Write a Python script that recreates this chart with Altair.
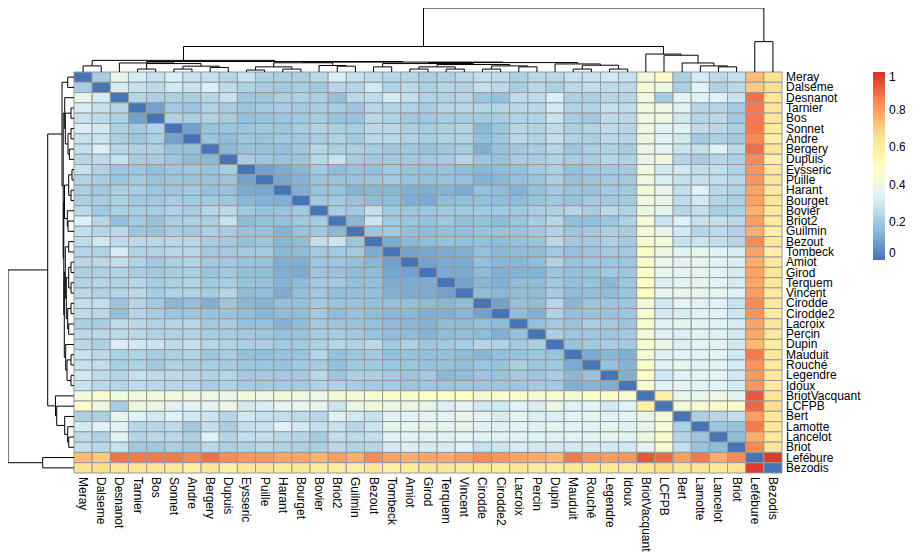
import altair as alt
import pandas as pd

names = ["Meray", "Dalseme", "Desnanot", "Tarnier", "Bos", "Sonnet", "Andre", "Bergery",
         "Dupuis", "Eysseric", "Puille", "Harant", "Bourget", "Bovier", "Briot2", "Guilmin",
         "Bezout", "Tombeck", "Amiot", "Girod", "Terquem", "Vincent", "Cirodde", "Cirodde2",
         "Lacroix", "Percin", "Dupin", "Mauduit", "Rouché", "Legendre", "Idoux",
         "BriotVacquant", "LCFPB", "Bert", "Lamotte", "Lancelot", "Briot", "Lefébure", "Bezodis"]

# lower triangle of the distance matrix (row i: columns 0..i-1)
lower = [
    [],
    [0.21],
    [0.37, 0.31],
    [0.31, 0.28, 0.24],
    [0.28, 0.26, 0.22, 0.10],
    [0.32, 0.30, 0.22, 0.20, 0.23],
    [0.28, 0.29, 0.22, 0.19, 0.22, 0.10],
    [0.27, 0.32, 0.24, 0.23, 0.23, 0.18, 0.18],
    [0.24, 0.26, 0.28, 0.21, 0.21, 0.19, 0.16, 0.15],
    [0.28, 0.23, 0.19, 0.19, 0.17, 0.19, 0.19, 0.18, 0.21],
    [0.23, 0.21, 0.19, 0.20, 0.18, 0.19, 0.18, 0.18, 0.19, 0.10],
    [0.22, 0.20, 0.22, 0.21, 0.19, 0.19, 0.20, 0.17, 0.18, 0.12, 0.11],
    [0.22, 0.21, 0.22, 0.20, 0.20, 0.21, 0.20, 0.20, 0.19, 0.15, 0.14, 0.13],
    [0.25, 0.20, 0.22, 0.21, 0.21, 0.23, 0.21, 0.24, 0.25, 0.20, 0.18, 0.18, 0.20],
    [0.32, 0.24, 0.17, 0.21, 0.18, 0.22, 0.23, 0.22, 0.28, 0.16, 0.18, 0.18, 0.20, 0.21],
    [0.27, 0.24, 0.25, 0.19, 0.18, 0.21, 0.20, 0.22, 0.21, 0.18, 0.18, 0.14, 0.18, 0.20, 0.15],
    [0.26, 0.30, 0.26, 0.25, 0.25, 0.25, 0.25, 0.21, 0.20, 0.17, 0.19, 0.15, 0.16, 0.27, 0.29, 0.19],
    [0.24, 0.23, 0.31, 0.23, 0.23, 0.25, 0.25, 0.20, 0.20, 0.20, 0.20, 0.15, 0.16, 0.20, 0.20, 0.20, 0.12],
    [0.24, 0.25, 0.27, 0.23, 0.20, 0.22, 0.23, 0.20, 0.20, 0.18, 0.18, 0.13, 0.13, 0.19, 0.19, 0.17, 0.15, 0.10],
    [0.22, 0.22, 0.23, 0.21, 0.20, 0.21, 0.21, 0.18, 0.20, 0.17, 0.17, 0.13, 0.12, 0.19, 0.18, 0.16, 0.16, 0.11, 0.10],
    [0.23, 0.24, 0.23, 0.24, 0.21, 0.22, 0.23, 0.20, 0.21, 0.18, 0.18, 0.14, 0.16, 0.20, 0.20, 0.17, 0.17, 0.12, 0.12, 0.12],
    [0.25, 0.23, 0.24, 0.25, 0.21, 0.23, 0.23, 0.21, 0.24, 0.16, 0.17, 0.12, 0.17, 0.20, 0.17, 0.17, 0.17, 0.13, 0.12, 0.12, 0.10],
    [0.27, 0.27, 0.19, 0.24, 0.20, 0.15, 0.17, 0.13, 0.19, 0.15, 0.14, 0.17, 0.17, 0.20, 0.18, 0.18, 0.17, 0.17, 0.17, 0.16, 0.15, 0.16],
    [0.26, 0.25, 0.17, 0.24, 0.21, 0.19, 0.19, 0.18, 0.18, 0.16, 0.15, 0.16, 0.16, 0.20, 0.16, 0.18, 0.16, 0.15, 0.15, 0.13, 0.13, 0.15, 0.10],
    [0.22, 0.21, 0.26, 0.25, 0.23, 0.24, 0.25, 0.20, 0.21, 0.17, 0.17, 0.14, 0.16, 0.20, 0.19, 0.18, 0.17, 0.16, 0.15, 0.14, 0.16, 0.16, 0.17, 0.16],
    [0.25, 0.25, 0.26, 0.25, 0.23, 0.23, 0.23, 0.21, 0.21, 0.20, 0.19, 0.17, 0.18, 0.21, 0.21, 0.20, 0.18, 0.16, 0.16, 0.14, 0.16, 0.16, 0.16, 0.13, 0.17],
    [0.25, 0.22, 0.32, 0.30, 0.29, 0.26, 0.27, 0.24, 0.23, 0.22, 0.22, 0.20, 0.20, 0.22, 0.24, 0.23, 0.25, 0.20, 0.23, 0.19, 0.20, 0.21, 0.24, 0.23, 0.20, 0.22],
    [0.28, 0.25, 0.22, 0.23, 0.21, 0.22, 0.23, 0.19, 0.21, 0.17, 0.17, 0.18, 0.18, 0.24, 0.17, 0.19, 0.20, 0.17, 0.18, 0.17, 0.17, 0.16, 0.15, 0.17, 0.18, 0.19, 0.18],
    [0.28, 0.27, 0.22, 0.23, 0.20, 0.23, 0.22, 0.22, 0.21, 0.19, 0.19, 0.18, 0.20, 0.21, 0.17, 0.20, 0.20, 0.19, 0.19, 0.18, 0.18, 0.17, 0.19, 0.18, 0.22, 0.19, 0.20, 0.12],
    [0.30, 0.26, 0.24, 0.28, 0.26, 0.26, 0.25, 0.23, 0.24, 0.20, 0.20, 0.20, 0.20, 0.25, 0.19, 0.22, 0.22, 0.20, 0.19, 0.20, 0.15, 0.16, 0.19, 0.18, 0.20, 0.19, 0.21, 0.15, 0.18],
    [0.28, 0.25, 0.24, 0.26, 0.25, 0.24, 0.24, 0.21, 0.23, 0.20, 0.20, 0.20, 0.20, 0.23, 0.23, 0.21, 0.20, 0.20, 0.19, 0.19, 0.19, 0.19, 0.19, 0.19, 0.19, 0.20, 0.20, 0.13, 0.14, 0.13],
    [0.42, 0.45, 0.41, 0.41, 0.41, 0.41, 0.40, 0.40, 0.38, 0.41, 0.40, 0.42, 0.41, 0.40, 0.44, 0.44, 0.45, 0.47, 0.47, 0.48, 0.48, 0.50, 0.44, 0.46, 0.46, 0.44, 0.46, 0.44, 0.47, 0.49, 0.45],
    [0.48, 0.40, 0.21, 0.40, 0.40, 0.34, 0.34, 0.35, 0.40, 0.30, 0.32, 0.36, 0.37, 0.36, 0.29, 0.38, 0.42, 0.39, 0.38, 0.37, 0.32, 0.35, 0.30, 0.30, 0.34, 0.32, 0.39, 0.33, 0.34, 0.30, 0.33, 0.58],
    [0.22, 0.22, 0.35, 0.33, 0.30, 0.33, 0.30, 0.29, 0.24, 0.30, 0.28, 0.27, 0.26, 0.24, 0.33, 0.30, 0.28, 0.34, 0.34, 0.35, 0.34, 0.37, 0.35, 0.31, 0.35, 0.32, 0.32, 0.34, 0.36, 0.33, 0.34, 0.37, 0.43],
    [0.31, 0.34, 0.34, 0.24, 0.24, 0.26, 0.20, 0.27, 0.21, 0.27, 0.28, 0.33, 0.30, 0.27, 0.28, 0.24, 0.29, 0.37, 0.36, 0.37, 0.36, 0.37, 0.33, 0.33, 0.35, 0.33, 0.35, 0.34, 0.34, 0.36, 0.33, 0.37, 0.44, 0.22],
    [0.26, 0.23, 0.34, 0.24, 0.25, 0.25, 0.22, 0.33, 0.24, 0.27, 0.27, 0.25, 0.24, 0.21, 0.27, 0.26, 0.27, 0.34, 0.34, 0.34, 0.34, 0.35, 0.33, 0.33, 0.34, 0.33, 0.33, 0.35, 0.34, 0.36, 0.34, 0.40, 0.46, 0.24, 0.19],
    [0.27, 0.25, 0.28, 0.20, 0.20, 0.22, 0.20, 0.25, 0.22, 0.23, 0.25, 0.23, 0.22, 0.22, 0.25, 0.23, 0.24, 0.31, 0.32, 0.31, 0.31, 0.33, 0.28, 0.29, 0.31, 0.30, 0.30, 0.30, 0.31, 0.30, 0.30, 0.35, 0.47, 0.27, 0.18, 0.16],
    [0.74, 0.71, 0.88, 0.87, 0.87, 0.87, 0.84, 0.89, 0.84, 0.82, 0.82, 0.79, 0.79, 0.76, 0.80, 0.77, 0.84, 0.79, 0.77, 0.79, 0.78, 0.80, 0.84, 0.82, 0.79, 0.78, 0.75, 0.87, 0.82, 0.81, 0.82, 0.93, 0.90, 0.80, 0.87, 0.77, 0.84],
    [0.65, 0.67, 0.64, 0.64, 0.63, 0.62, 0.59, 0.64, 0.58, 0.63, 0.63, 0.62, 0.63, 0.62, 0.61, 0.59, 0.63, 0.59, 0.62, 0.63, 0.63, 0.62, 0.62, 0.62, 0.63, 0.62, 0.60, 0.63, 0.62, 0.62, 0.62, 0.64, 0.67, 0.63, 0.64, 0.62, 0.64, 0.98],
]

# hierarchical clustering merges: (node, child a, child b, height)
merges = [
    ("MD", "Meray", "Dalseme", 0.63),
    ("TB", "Tarnier", "Bos", 0.30),
    ("SA", "Sonnet", "Andre", 0.30),
    ("BD", "Bergery", "Dupuis", 0.47),
    ("SABD", "SA", "BD", 0.60),
    ("TBSABD", "TB", "SABD", 0.87),
    ("GA", "Desnanot", "TBSABD", 0.93),
    ("EP", "Eysseric", "Puille", 0.20),
    ("HB", "Harant", "Bourget", 0.30),
    ("EPHB", "EP", "HB", 0.53),
    ("BG", "Briot2", "Guilmin", 0.60),
    ("BBG", "Bovier", "BG", 0.67),
    ("GB", "EPHB", "BBG", 0.95),
    ("BT", "Bezout", "Tombeck", 0.53),
    ("AG", "Amiot", "Girod", 0.30),
    ("TV", "Terquem", "Vincent", 0.30),
    ("AGTV", "AG", "TV", 0.53),
    ("CC", "Cirodde", "Cirodde2", 0.30),
    ("LP", "Lacroix", "Percin", 0.53),
    ("CCLP", "CC", "LP", 0.63),
    ("C8", "AGTV", "CCLP", 0.77),
    ("GC", "BT", "C8", 0.87),
    ("MR", "Mauduit", "Rouché", 0.30),
    ("LI", "Legendre", "Idoux", 0.30),
    ("MRLI", "MR", "LI", 0.70),
    ("GD", "Dupin", "MRLI", 0.83),
    ("GY", "GC", "GD", 0.97),
    ("GX", "GB", "GY", 1.02),
    ("REST", "GA", "GX", 1.08),
    ("G030", "MD", "REST", 1.20),
    ("LB2", "Lancelot", "Briot", 0.53),
    ("LAM", "Lamotte", "LB2", 0.63),
    ("BERT", "Bert", "LAM", 0.93),
    ("LCF", "LCFPB", "BERT", 1.73),
    ("BVG", "BriotVacquant", "LCF", 1.85),
    ("MAIN", "G030", "BVG", 2.63),
    ("LEFBEZ", "Lefébure", "Bezodis", 3.13),
    ("ROOT", "MAIN", "LEFBEZ", 6.60),
]

legend_values = [0, 0.2, 0.4, 0.6, 0.8, 1]
palette = ["#4575B4", "#91BFDB", "#E0F3F8", "#FFFFBF", "#FEE090", "#FC8D59", "#D73027"]

N = len(names)

cells = []
for i in range(N):
    for j in range(N):
        if i == j:
            v = 0.0
        else:
            a, b = max(i, j), min(i, j)
            v = lower[a][b]
        cells.append({"row": i, "row2": i + 1, "col": j, "col2": j + 1, "value": v})
heat = pd.DataFrame(cells)

pos = {n: i + 0.5 for i, n in enumerate(names)}
hgt = {n: 0.0 for n in names}
segs = []
for node, a, b, h in merges:
    pos[node] = (pos[a] + pos[b]) / 2
    hgt[node] = h
    segs.append({"p1": pos[a], "p2": pos[a], "h1": hgt[a], "h2": h})
    segs.append({"p1": pos[b], "p2": pos[b], "h1": hgt[b], "h2": h})
    segs.append({"p1": pos[a], "p2": pos[b], "h1": h, "h2": h})
dend = pd.DataFrame(segs)
H = max(m[3] for m in merges)

labels = pd.DataFrame({"name": names, "center": [i + 0.5 for i in range(N)], "edge": [N] * N})

FONT = "Liberation Sans"
xs = alt.Scale(domain=[0, N], range=[66, 774])
ys = alt.Scale(domain=[0, N], range=[64, 465])
top_h = alt.Scale(domain=[0, H], range=[64, 0])
left_h = alt.Scale(domain=[0, H], range=[66, 0])

color_stops = [k / 6 for k in range(7)]

heatmap = alt.Chart(heat).mark_rect(stroke="#999999", strokeWidth=1).encode(
    x=alt.X("col:Q", scale=xs, axis=None),
    x2="col2:Q",
    y=alt.Y("row:Q", scale=ys, axis=None),
    y2="row2:Q",
    color=alt.Color(
        "value:Q",
        scale=alt.Scale(domain=color_stops, range=palette, interpolate="rgb"),
        legend=alt.Legend(
            orient="none", legendX=865, legendY=64, direction="vertical",
            gradientLength=188, gradientThickness=12, gradientStrokeWidth=0,
            title=None, values=legend_values, format=".1~f",
            labelFontSize=12, labelFont=FONT, labelColor="#000000", labelOffset=4,
        ),
    ),
)

top_dend = alt.Chart(dend).mark_rule(color="#000000", strokeWidth=1).encode(
    x=alt.X("p1:Q", scale=xs, axis=None),
    x2="p2:Q",
    y=alt.Y("h1:Q", scale=top_h, axis=None),
    y2="h2:Q",
)

left_dend = alt.Chart(dend).mark_rule(color="#000000", strokeWidth=1).encode(
    y=alt.Y("p1:Q", scale=ys, axis=None),
    y2="p2:Q",
    x=alt.X("h1:Q", scale=left_h, axis=None),
    x2="h2:Q",
)

row_labels = alt.Chart(labels).mark_text(
    align="left", baseline="middle", dx=4, fontSize=12, font=FONT, color="#000000"
).encode(
    x=alt.X("edge:Q", scale=xs, axis=None),
    y=alt.Y("center:Q", scale=ys, axis=None),
    text="name:N",
)

col_labels = alt.Chart(labels).mark_text(
    align="left", baseline="middle", angle=90, dx=4, fontSize=12, font=FONT, color="#000000"
).encode(
    x=alt.X("center:Q", scale=xs, axis=None),
    y=alt.Y("edge:Q", scale=ys, axis=None),
    text="name:N",
)

chart = alt.layer(heatmap, top_dend, left_dend, row_labels, col_labels).resolve_scale(
    x="independent", y="independent"
).properties(
    width=897, height=545, autosize=alt.AutoSizeParams(type="none"), padding=0,
    background="white",
).configure_view(stroke=None)

chart.save("out.html", embed_options={"renderer": "svg", "actions": False})
